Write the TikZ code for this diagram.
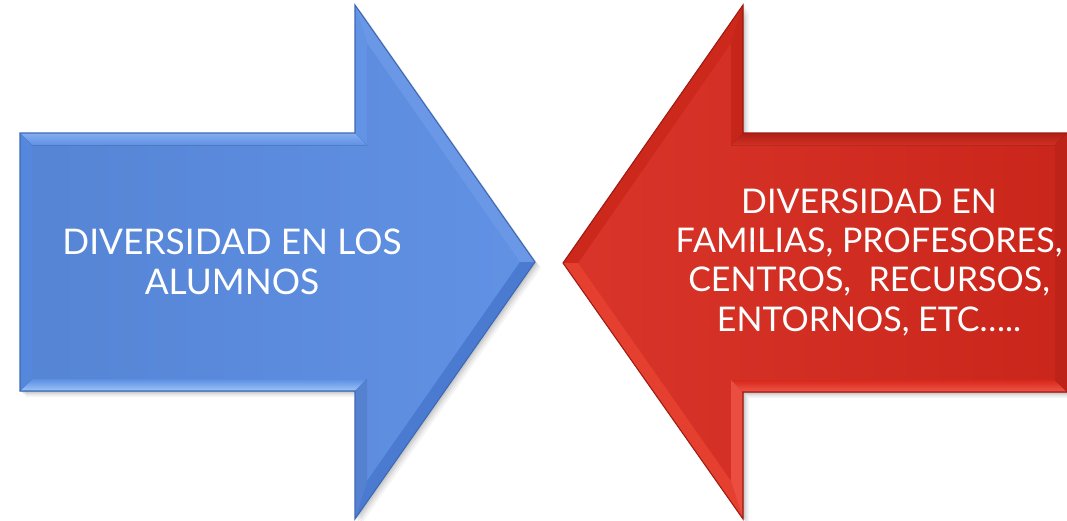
\documentclass[tikz,border=0pt]{standalone}
\usepackage{fontspec}
\setmainfont{Lato}
\definecolor{bmain}{HTML}{5B8DE3}
\definecolor{btop}{HTML}{86AEEF}
\definecolor{bbot}{HTML}{9CC6F7}
\definecolor{bleft}{HTML}{5587DD}
\definecolor{bup}{HTML}{6A98E6}
\definecolor{bdown}{HTML}{4A7BD0}
\definecolor{bline}{HTML}{3D68B5}
\definecolor{rmain}{HTML}{D7281C}
\definecolor{rtop}{HTML}{D03024}
\definecolor{rbot}{HTML}{F0564A}
\definecolor{rleft}{HTML}{E0382A}
\definecolor{rup}{HTML}{CC281C}
\definecolor{rdown}{HTML}{E5402F}
\definecolor{rline}{HTML}{9E1A12}
\tikzset{
  lbl/.style={font=\fontsize{26.5}{29.5}\selectfont, text=white, align=center, inner sep=0pt},
  lblr/.style={lbl, font=\fontsize{25.5}{29.5}\selectfont},
}
\begin{document}
\begin{tikzpicture}[x=0.75pt,y=-0.75pt]
\useasboundingbox (0,0) rectangle (1067,521);
% shadows
\foreach \o/\a in {6/0.04,4.5/0.05,3/0.07,1.5/0.08}{
  \fill[black,opacity=\a] (20+\o,133+\o) -- (355+\o,133+\o) -- (355+\o,5+\o) -- (535+\o,262+\o) -- (355+\o,519+\o) -- (355+\o,391+\o) -- (20+\o,391+\o) -- cycle;
  \fill[black,opacity=\a] (1067,133+\o) -- (743+\o,133+\o) -- (743+\o,5+\o) -- (563+\o,263+\o) -- (743+\o,519+\o) -- (743+\o,392+\o) -- (1067,392+\o) -- cycle;
}
% blue arrow
\fill[bmain] (20,133) -- (355,133) -- (355,5) -- (535,262) -- (355,519) -- (355,391) -- (20,391) -- cycle;
\begin{scope}
\clip (32,145) -- (367,145) -- (367,43) -- (520,262) -- (367,481) -- (367,379) -- (32,379) -- cycle;
\shade[left color=bmain!94!black, right color=bmain!96!white] (32,5) rectangle (535,519);
\end{scope}
\fill[top color=btop,bottom color=bmain!90!btop] (20,133) -- (355,133) -- (367,145) -- (32,145) -- cycle;
\fill[top color=bmain,bottom color=bbot] (20,391) -- (355,391) -- (367,379) -- (32,379) -- cycle;
\fill[bleft] (20,133) -- (32,145) -- (32,379) -- (20,391) -- cycle;
\fill[bup] (355,5) -- (535,262) -- (520,262) -- (367,43) -- cycle;
\fill[bdown] (355,519) -- (535,262) -- (520,262) -- (367,481) -- cycle;
\fill[bmain!95!white] (355,5) -- (367,43) -- (367,145) -- (355,133) -- cycle;
\fill[bmain!92!black] (355,519) -- (367,481) -- (367,379) -- (355,391) -- cycle;
\draw[bline,line width=0.8] (20,133) -- (355,133) -- (355,5) -- (535,262) -- (355,519) -- (355,391) -- (20,391) -- cycle;
% red arrow
\fill[rmain] (1067,133) -- (743,133) -- (743,5) -- (563,263) -- (743,519) -- (743,392) -- (1067,392) -- cycle;
\begin{scope}
\clip (1055,145) -- (731,145) -- (731,43) -- (578,263) -- (731,481) -- (731,380) -- (1055,380) -- cycle;
\shade[left color=rmain!94!white, right color=rmain!94!black] (563,5) rectangle (1067,519);
\end{scope}
\fill[top color=rline!70!rmain,bottom color=rtop] (1067,133) -- (743,133) -- (731,145) -- (1055,145) -- cycle;
\fill[top color=rmain,bottom color=rbot] (1067,392) -- (743,392) -- (731,380) -- (1055,380) -- cycle;
\fill[rmain!88!black] (1067,133) -- (1055,145) -- (1055,380) -- (1067,392) -- cycle;
\fill[rup] (743,5) -- (563,263) -- (578,263) -- (731,43) -- cycle;
\fill[rdown] (743,519) -- (563,263) -- (578,263) -- (731,481) -- cycle;
\fill[rmain!92!black] (743,5) -- (731,43) -- (731,145) -- (743,133) -- cycle;
\fill[rbot!80!rmain] (743,519) -- (731,481) -- (731,380) -- (743,392) -- cycle;
\draw[rline,line width=0.8] (1067,133) -- (743,133) -- (743,5) -- (563,263) -- (743,519) -- (743,392) -- (1067,392);
% labels
\node[lbl] (blue) at (232,262) {DIVERSIDAD EN LOS\\ALUMNOS};
\node[lblr] (red) at (869,262) {DIVERSIDAD EN\\FAMILIAS, PROFESORES,\\CENTROS,\ \ RECURSOS,\\ENTORNOS, ETC\dots..};
\end{tikzpicture}
\end{document}
